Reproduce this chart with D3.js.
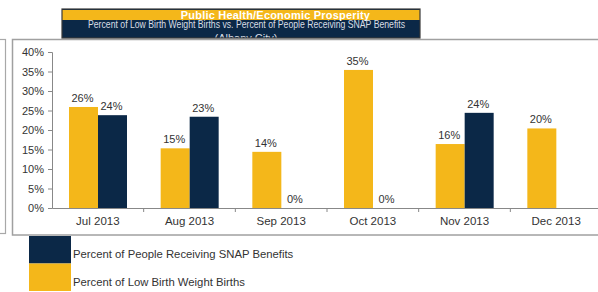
<!DOCTYPE html>
<html>
<head>
<meta charset="utf-8">
<script src="https://cdn.jsdelivr.net/npm/d3@7"></script>
<style>
  body { margin: 0; background: #fff; }
  svg { display: block; font-family: "Liberation Sans", Arial, sans-serif; }
</style>
</head>
<body>
<div id="chart"></div>
<script>
// data
const months = ["Jul 2013", "Aug 2013", "Sep 2013", "Oct 2013", "Nov 2013", "Dec 2013"];
const lowBirthWeight = [0.259, 0.153, 0.144, 0.354, 0.164, 0.204];
const snapBenefits = [0.238, 0.234, 0, 0, 0.244, null];
const seriesNames = ["Percent of Low Birth Weight Births", "Percent of People Receiving SNAP Benefits"];
const yTicks = [0, 0.05, 0.10, 0.15, 0.20, 0.25, 0.30, 0.35, 0.40];

const width = 598, height = 292;
const yellow = "#f4b71a", navy = "#0b2847";
const textColor = "#333";

const svg = d3.select("#chart").append("svg")
  .attr("width", width)
  .attr("height", height);

// outer frames
svg.append("rect")
  .attr("x", -20).attr("y", 39.5).attr("width", 25.5).attr("height", 194)
  .attr("fill", "none").attr("stroke", "#a8a8a8").attr("stroke-width", 1.2);
svg.append("rect")
  .attr("x", 12.5).attr("y", 39.5).attr("width", 620).attr("height", 195.5)
  .attr("fill", "none").attr("stroke", "#a0a0a0").attr("stroke-width", 1.5);

// title box
const tb = { x: 62, y: 9, w: 358, h: 29 };
svg.append("clipPath").attr("id", "tclip")
  .append("rect").attr("x", tb.x).attr("y", tb.y).attr("width", tb.w).attr("height", tb.h);
const title = svg.append("g").attr("clip-path", "url(#tclip)");
title.append("rect").attr("x", tb.x).attr("y", tb.y).attr("width", tb.w).attr("height", tb.h)
  .attr("fill", navy);
title.append("text")
  .attr("x", 88).attr("y", 27.5)
  .attr("font-size", 11.5).attr("fill", "#d8dde4")
  .attr("textLength", 317).attr("lengthAdjust", "spacingAndGlyphs")
  .text("Percent of Low Birth Weight Births vs. Percent of People Receiving SNAP Benefits");
title.append("text")
  .attr("x", 246).attr("y", 42)
  .attr("text-anchor", "middle").attr("font-size", 11).attr("fill", "#d8dde4")
  .text("(Albany City)");
title.append("rect").attr("x", tb.x).attr("y", tb.y + 1).attr("width", tb.w).attr("height", 10)
  .attr("fill", yellow);
title.append("text")
  .attr("x", 275.5).attr("y", 19)
  .attr("text-anchor", "middle").attr("font-size", 11).attr("font-weight", "bold")
  .attr("letter-spacing", 0.2).attr("fill", "#fff")
  .text("Public Health/Economic Prosperity");
svg.append("rect").attr("x", tb.x).attr("y", tb.y).attr("width", tb.w).attr("height", tb.h)
  .attr("fill", "none").attr("stroke", "#3a3a3a").attr("stroke-width", 1.2);

// scales
const x0 = d3.scaleBand().domain(months).range([52, 602]);
const x1 = d3.scaleBand().domain(seriesNames).range([17, 75]);
const y = d3.scaleLinear().domain([0, 0.4]).range([208, 52]);
const colors = d3.scaleOrdinal().domain(seriesNames).range([yellow, navy]);
const pct = d3.format(".0%");

// y axis
const yAxis = svg.append("g")
  .attr("transform", "translate(52,0)")
  .call(d3.axisLeft(y).tickValues(yTicks).tickFormat(pct).tickSize(4).tickPadding(4));
yAxis.select(".domain").attr("stroke", "#888");
yAxis.selectAll(".tick line").attr("stroke", "#888");
yAxis.selectAll(".tick text").attr("font-size", 11).attr("fill", textColor)
  .attr("font-family", "Liberation Sans, Arial, sans-serif");

// bars
const rows = months.map((m, i) => ({
  month: m,
  values: [
    { name: seriesNames[0], v: lowBirthWeight[i] },
    { name: seriesNames[1], v: snapBenefits[i] }
  ]
}));

const groups = svg.selectAll("g.month")
  .data(rows)
  .enter().append("g")
  .attr("class", "month")
  .attr("transform", d => "translate(" + x0(d.month) + ",0)");

const cells = groups.selectAll("g.cell")
  .data(d => d.values.filter(v => v.v !== null))
  .enter().append("g").attr("class", "cell");

cells.append("rect")
  .attr("x", d => x1(d.name))
  .attr("y", d => y(d.v))
  .attr("width", x1.bandwidth())
  .attr("height", d => y(0) - y(d.v))
  .attr("fill", d => colors(d.name));

cells.append("text")
  .attr("x", d => x1(d.name) + x1.bandwidth() / 2 - 1)
  .attr("y", d => y(d.v) - 5)
  .attr("text-anchor", "middle")
  .attr("font-size", 11)
  .attr("fill", textColor)
  .text(d => pct(d.v));

// x axis
const xAxis = svg.append("g")
  .attr("transform", "translate(0,208)")
  .call(d3.axisBottom(x0).tickSize(0).tickPadding(9));
xAxis.select(".domain").attr("stroke", "#888");
xAxis.selectAll(".tick text").attr("font-size", 11.5).attr("fill", textColor)
  .attr("font-family", "Liberation Sans, Arial, sans-serif");
svg.append("g").selectAll("line")
  .data(months.slice(1))
  .enter().append("line")
  .attr("x1", d => x0(d)).attr("x2", d => x0(d))
  .attr("y1", 208).attr("y2", 212)
  .attr("stroke", "#888");

// legend
const legendOrder = [seriesNames[1], seriesNames[0]];
const legend = svg.append("g").selectAll("g")
  .data(legendOrder)
  .enter().append("g")
  .attr("transform", (d, i) => "translate(29," + (236 + i * 27.5) + ")");
legend.append("rect")
  .attr("width", 42).attr("height", 27.5)
  .attr("fill", d => colors(d));
legend.append("text")
  .attr("x", 44).attr("y", 22)
  .attr("font-size", 11.3)
  .attr("fill", textColor)
  .text(d => d);
</script>
</body>
</html>
